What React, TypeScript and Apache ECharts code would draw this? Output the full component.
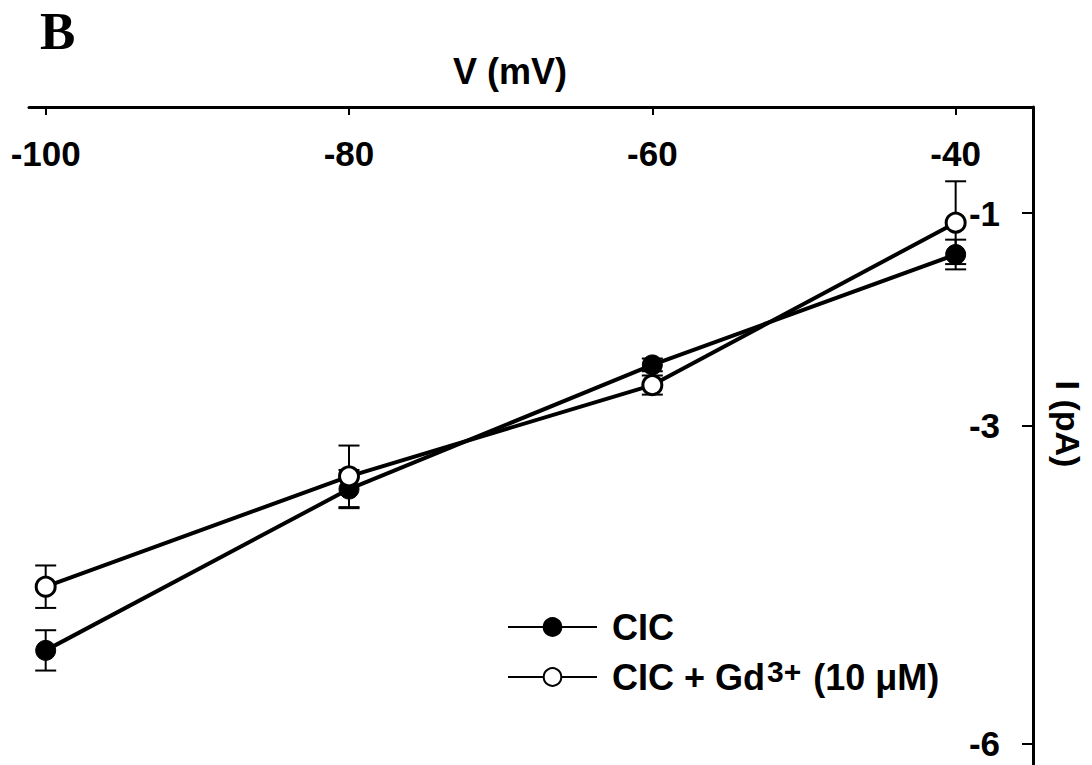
import React, { useEffect, useRef } from 'react';
import * as echarts from 'echarts';

const voltages = [-100, -80, -60, -40];
const cicMean = [-5.12, -3.6, -2.43, -1.39];
const cicErr = [0.19, 0.18, 0.06, 0.14];
const gdMean = [-4.52, -3.48, -2.62, -1.09];
const gdErr = [0.2, 0.29, 0.09, 0.39];
const xTicks = [-100, -80, -60, -40];
const yTicks = [-1, -3, -6];
const seriesNames = ['CIC', 'CIC + Gd3+ (10 μM)'];

const FONT = '"Liberation Sans", Arial, Helvetica, sans-serif';

function errorData(mean: number[], err: number[]) {
  return voltages.map((v, i) => [v, mean[i] - err[i], mean[i] + err[i]]);
}

function errorSeries(mean: number[], err: number[]) {
  return {
    type: 'custom',
    z: 1,
    silent: true,
    encode: { x: 0, y: [1, 2] },
    data: errorData(mean, err),
    renderItem: (params: any, api: any) => {
      const x = api.value(0);
      const lo = api.coord([x, api.value(1)]);
      const hi = api.coord([x, api.value(2)]);
      const w = 10.5;
      const st = { stroke: '#000', lineWidth: 2 };
      return {
        type: 'group',
        children: [
          { type: 'line', shape: { x1: lo[0], y1: lo[1], x2: hi[0], y2: hi[1] }, style: st },
          { type: 'line', shape: { x1: lo[0] - w, y1: lo[1], x2: lo[0] + w, y2: lo[1] }, style: st },
          { type: 'line', shape: { x1: hi[0] - w, y1: hi[1], x2: hi[0] + w, y2: hi[1] }, style: st },
        ],
      };
    },
  };
}

export default function App() {
  const ref = useRef<HTMLDivElement>(null);
  useEffect(() => {
    if (!ref.current) return;
    const chart = echarts.init(ref.current, undefined, { renderer: 'svg' });
    const labelStyle = { fontFamily: FONT, fontWeight: 'bold', fontSize: 35, color: '#000' };
    const legendBase = { fontFamily: FONT, fontWeight: 'bold', fontSize: 36, color: '#000', lineHeight: 42 };
    chart.setOption({
      animation: false,
      backgroundColor: '#fff',
      grid: { left: 29, right: 59, top: 107, bottom: 0, containLabel: false },
      xAxis: {
        type: 'value',
        position: 'top',
        min: -101.1,
        max: -34.9,
        name: 'V (mV)',
        nameLocation: 'middle',
        nameGap: 18,
        nameTextStyle: { ...labelStyle, fontSize: 36, padding: [0, 42, 0, 0] },
        splitLine: { show: false },
        axisLine: { show: true, onZero: false, lineStyle: { color: '#000', width: 3 } },
        axisTick: { show: true, inside: true, length: 8, lineStyle: { color: '#000', width: 2 }, customValues: xTicks },
        axisLabel: { show: true, inside: true, margin: 29, ...labelStyle, customValues: xTicks, formatter: (v: number) => String(v) },
      },
      yAxis: {
        type: 'value',
        position: 'right',
        min: -6.2,
        max: 0,
        splitLine: { show: false },
        axisLine: { show: true, onZero: false, lineStyle: { color: '#000', width: 3 } },
        axisTick: { show: true, inside: true, length: 11, lineStyle: { color: '#000', width: 2 }, customValues: yTicks },
        axisLabel: { show: true, inside: true, margin: 33, ...labelStyle, customValues: yTicks, formatter: (v: number) => String(v) },
      },
      legend: {
        data: seriesNames,
        orient: 'vertical',
        left: 502,
        top: 601,
        itemWidth: 89,
        itemHeight: 22,
        itemGap: 8,
        textStyle: {
          ...legendBase,
          padding: [0, 0, 0, 10],
          rich: {
            a: { ...legendBase },
            b: { ...legendBase, padding: [0, 0, 0, 12] },
            s: { fontFamily: FONT, fontWeight: 'bold', color: '#000', fontSize: 30, lineHeight: 10, verticalAlign: 'top', padding: [0, 0, 0, 2] },
          },
        },
        formatter: (name: string) =>
          name === seriesNames[0] ? '{a|CIC}' : '{a|CIC + Gd}{s|3+}{b|(10 μM)}',
      },
      graphic: [
        {
          type: 'text',
          left: 40,
          top: 4,
          style: { text: 'B', font: 'bold 53px "Liberation Serif", "Times New Roman", serif', fill: '#000' },
        },
        {
          type: 'text',
          x: 1068,
          y: 424,
          rotation: -Math.PI / 2,
          style: { text: 'I (pA)', font: `bold 34px ${FONT}`, fill: '#000', align: 'center', verticalAlign: 'middle' },
        },
      ],
      series: [
        errorSeries(cicMean, cicErr),
        errorSeries(gdMean, gdErr),
        {
          name: seriesNames[0],
          type: 'line',
          z: 3,
          color: '#000',
          data: voltages.map((v, i) => [v, cicMean[i]]),
          symbol: 'circle',
          symbolSize: 20,
          lineStyle: { color: '#000', width: 4 },
          itemStyle: { color: '#000', borderColor: '#000', borderWidth: 1 },
        },
        {
          name: seriesNames[1],
          type: 'line',
          z: 4,
          color: '#000',
          data: voltages.map((v, i) => [v, gdMean[i]]),
          symbol: 'circle',
          symbolSize: 19,
          lineStyle: { color: '#000', width: 4 },
          itemStyle: { color: '#fff', borderColor: '#000', borderWidth: 3 },
        },
      ],
    });
    return () => chart.dispose();
  }, []);
  return <div ref={ref} style={{ position: 'fixed', left: 0, top: 0, width: 1092, height: 765 }} />;
}
